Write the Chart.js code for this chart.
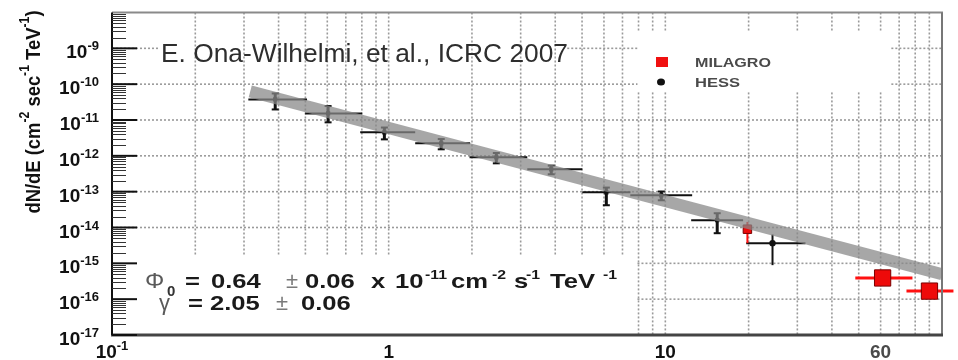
<!DOCTYPE html>
<html><head><meta charset="utf-8">
<script src="https://cdn.jsdelivr.net/npm/chart.js@4/dist/chart.umd.min.js"></script>
<style>html,body{margin:0;padding:0;background:#fff;overflow:hidden}#wrap{width:958px;height:360px;position:relative}</style>
</head><body><div id="wrap"><canvas id="c" width="958" height="360"></canvas></div>
<script>
// ---------------- data ----------------
const hessE   = [0.389, 0.604, 0.965, 1.549, 2.45, 3.87, 6.12, 9.67, 15.4, 24.4];
const hessElo = [0.311, 0.499, 0.789, 1.247, 1.96, 3.17, 5.01, 7.47, 12.4, 19.6];
const hessEhi = [0.507, 0.802, 1.247, 1.97, 3.17, 5.01, 7.48, 12.5, 19.1, 32.1];
const hessF   = [3.75e-11, 1.53e-11, 4.52e-12, 2.23e-12, 9.08e-13, 4.2e-13, 9.6e-14, 7.94e-14, 1.6e-14, 3.66e-15];
const hessFlo = [1.97e-11, 8.6e-12, 2.88e-12, 1.52e-12, 6.18e-13, 3.06e-13, 4.18e-14, 5.75e-14, 6.93e-15, 8.9e-16];
const hessFhi = [5.5e-11, 2.45e-11, 6.16e-12, 2.94e-12, 1.2e-12, 5.34e-13, 1.3e-13, 1.01e-13, 2.5e-14, 6.4e-15];

const milagroE   = [19.8, 61, 90.1];
const milagroElo = [19.8, 48.6, 74.4];
const milagroEhi = [19.8, 78.2, 110];
const milagroF   = [8.97e-15, 3.9e-16, 1.68e-16];
const milagroFlo = [3.66e-15, 3.9e-16, 1.68e-16];
const milagroFhi = [1.43e-14, 3.9e-16, 1.68e-16];

const fitE = [0.316, 100];
const fitF = [6.3e-11, 5.0e-16];

const xTickVals = [0.1, 1, 10, 60];
const xTickBase = ['10', '1', '10', '60'];
const xTickExp  = ['-1', '', '', ''];
const yTickExps = [-17, -16, -15, -14, -13, -12, -11, -10, -9];

// ---------------- drawing helpers ----------------
const FONT = '"Liberation Sans", Arial, Helvetica, sans-serif';
function txt(ctx, s, x, y, font, color, sx) {
  ctx.save(); ctx.font = font; ctx.fillStyle = color; ctx.textAlign = 'left'; ctx.textBaseline = 'alphabetic';
  const w = ctx.measureText(s).width; const k = sx || 1;
  ctx.translate(x, y); ctx.scale(k, 1); ctx.fillText(s, 0, 0); ctx.restore();
  return w * k;
}
function fitW(ctx, s, x, y, font, color, width) {
  ctx.save(); ctx.font = font; const w = ctx.measureText(s).width; ctx.restore();
  return txt(ctx, s, x, y, font, color, width / w);
}
function mw(ctx, s, font) { ctx.save(); ctx.font = font; const w = ctx.measureText(s).width; ctx.restore(); return w; }
function line(ctx, x1, y1, x2, y2) { ctx.beginPath(); ctx.moveTo(x1, y1); ctx.lineTo(x2, y2); ctx.stroke(); }

const decorations = {
  id: 'decorations',
  beforeDatasetsDraw(chart) {
    const ctx = chart.ctx, xs = chart.scales.x, ys = chart.scales.y, ca = chart.chartArea;
    // dotted grid
    ctx.save();
    ctx.beginPath(); ctx.rect(ca.left, ca.top, ca.right - ca.left, ca.bottom - ca.top); ctx.clip();
    ctx.strokeStyle = '#9a9a9a'; ctx.lineWidth = 1.6; ctx.setLineDash([2, 2]);
    for (let d = -1; d <= 1; d++) for (let k = 2; k <= 10; k++) {
      const v = k * Math.pow(10, d); if (v >= 100) continue;
      const px = xs.getPixelForValue(v);
      let segs;
      if (v < 7.9) segs = [[1e-8, Math.pow(10, -14.78)]];
      else if (v < 65) segs = [[1e-8, Math.pow(10, -8.56)], [Math.pow(10, -10.23), 1e-17]];
      else segs = [[1e-8, 1e-17]];
      segs.forEach(s => line(ctx, px, ys.getPixelForValue(s[0]), px, ys.getPixelForValue(s[1])));
    }
    const hSegs = {
      '-9': [[0.1, 0.149], [4.42, 7.93], [65.6, 100]],
      '-10': [[0.1, 7.93], [65.6, 100]],
      '-11': [[0.1, 100]], '-12': [[0.1, 100]], '-13': [[0.1, 100]], '-14': [[0.1, 100]],
      '-15': [[7.93, 100]], '-16': [[7.93, 100]]
    };
    Object.keys(hSegs).forEach(e => {
      const py = ys.getPixelForValue(Math.pow(10, +e));
      hSegs[e].forEach(s => line(ctx, xs.getPixelForValue(s[0]), py, xs.getPixelForValue(s[1]), py));
    });
    ctx.restore();

    // error bars
    ctx.save(); ctx.setLineDash([]);
    ctx.strokeStyle = '#111';
    hessE.forEach((e, i) => {
      const px = xs.getPixelForValue(e), py = ys.getPixelForValue(hessF[i]);
      ctx.lineWidth = 2;
      line(ctx, xs.getPixelForValue(hessElo[i]), py, xs.getPixelForValue(hessEhi[i]), py);
      const yt = ys.getPixelForValue(hessFhi[i]), yb = ys.getPixelForValue(hessFlo[i]);
      if (i < hessE.length - 1) {
        ctx.lineWidth = 3; line(ctx, px, yt, px, yb);
        ctx.lineWidth = 2; line(ctx, px - 3.5, yt, px + 3.5, yt); line(ctx, px - 3.5, yb, px + 3.5, yb);
      } else {
        ctx.lineWidth = 2; line(ctx, px, yt, px, yb);
      }
    });
    ctx.strokeStyle = '#ff1010';
    milagroE.forEach((e, i) => {
      const px = xs.getPixelForValue(e), py = ys.getPixelForValue(milagroF[i]);
      ctx.lineWidth = 3;
      if (milagroEhi[i] > milagroElo[i]) line(ctx, xs.getPixelForValue(milagroElo[i]), py, xs.getPixelForValue(milagroEhi[i]), py);
      ctx.lineWidth = 2;
      if (milagroFhi[i] > milagroFlo[i]) line(ctx, px, ys.getPixelForValue(milagroFhi[i]), px, ys.getPixelForValue(milagroFlo[i]));
    });
    ctx.restore();
  },
  afterDatasetsDraw(chart) {
    const ctx = chart.ctx, ys = chart.scales.y, ca = chart.chartArea;
    ctx.save(); ctx.setLineDash([]);
    ctx.strokeStyle = '#8a8a8a'; ctx.lineWidth = 2; line(ctx, ca.left, ca.top, ca.right + 1, ca.top);
    ctx.strokeStyle = '#777'; ctx.lineWidth = 2; line(ctx, ca.right, ca.top, ca.right, ca.bottom);
    ctx.strokeStyle = '#444'; ctx.lineWidth = 3; line(ctx, ca.left - 1, ca.bottom, ca.right + 1, ca.bottom);
    ctx.strokeStyle = '#111'; ctx.lineWidth = 2; line(ctx, ca.left, ca.top, ca.left, ca.bottom);
    yTickExps.forEach(e => {
      const py = ys.getPixelForValue(Math.pow(10, e));
      ctx.strokeStyle = '#111'; ctx.lineWidth = 2; line(ctx, ca.left, py, ca.left + 25, py);
      ctx.strokeStyle = '#333'; ctx.lineWidth = 1;
      for (let k = 2; k <= 9; k++) {
        const pm = Math.round(ys.getPixelForValue(k * Math.pow(10, e))) + 0.5;
        line(ctx, ca.left, pm, ca.left + 14, pm);
      }
    });
    ctx.restore();
  },
  afterDraw(chart) {
    const ctx = chart.ctx, xs = chart.scales.x, ys = chart.scales.y;
    const fb = 'bold 19px ' + FONT, fs = 'bold 13px ' + FONT;
    yTickExps.forEach(e => {
      const py = ys.getPixelForValue(Math.pow(10, e));
      const sup = String(e);
      const wb = mw(ctx, '10', fb), ws = mw(ctx, sup, fs);
      const x0 = 99 - wb - ws;
      txt(ctx, '10', x0, py + 10, fb, '#111');
      txt(ctx, sup, x0 + wb, py + 2, fs, '#111');
    });
    xTickVals.forEach((v, i) => {
      const px = xs.getPixelForValue(v);
      const col = xTickBase[i] === '60' ? '#4a4a4a' : '#111';
      const wb = mw(ctx, xTickBase[i], fb), ws = xTickExp[i] ? mw(ctx, xTickExp[i], fs) : 0;
      const x0 = px - (wb + ws) / 2;
      txt(ctx, xTickBase[i], x0, 358, fb, col);
      if (xTickExp[i]) txt(ctx, xTickExp[i], x0 + wb, 350, fs, col);
    });
    ctx.save();
    ctx.translate(40, 112); ctx.rotate(-Math.PI / 2);
    const tf = 'bold 21px ' + FONT, tsf = 'bold 14px ' + FONT;
    const parts = [['dN/dE (cm', 0], ['-2', 1], [' sec', 0], ['-1', 1], [' TeV', 0], ['-1', 1], [')', 0]];
    let tot = 0; parts.forEach(p => tot += mw(ctx, p[0], p[1] ? tsf : tf));
    const k = 203 / tot; let cx = -tot * k / 2;
    parts.forEach(p => { cx += txt(ctx, p[0], cx, p[1] ? -11 : 0, p[1] ? tsf : tf, '#111', k); });
    ctx.restore();
    fitW(ctx, 'E. Ona-Wilhelmi, et al., ICRC 2007', 161, 62, '25px ' + FONT, '#2e2e2e', 407);
    ctx.save();
    ctx.fillStyle = '#f01010'; ctx.fillRect(656, 57, 12, 10);
    ctx.fillStyle = '#111'; ctx.beginPath(); ctx.ellipse(661, 82, 4, 3.5, 0, 0, Math.PI * 2); ctx.fill();
    ctx.restore();
    fitW(ctx, 'MILAGRO', 695, 67, 'bold 13px ' + FONT, '#4a4a4a', 76);
    fitW(ctx, 'HESS', 695, 87, 'bold 13px ' + FONT, '#4a4a4a', 45);
    const F = 'bold 21px ' + FONT, G = '22px ' + FONT, S = 'bold 13px ' + FONT, SX = 1.22;
    const dk = '#1a1a1a', gr = '#5a5a5a', lg = '#7a7a7a';
    txt(ctx, '\u03A6', 145, 288, G, gr, 1.1);
    txt(ctx, '0', 167, 296, 'bold 15px ' + FONT, '#333');
    txt(ctx, '=', 185, 288, F, dk, SX);
    txt(ctx, '0.64', 211, 288, F, dk, SX);
    txt(ctx, '\u00B1', 286, 288, G, lg);
    txt(ctx, '0.06', 305, 288, F, dk, SX);
    txt(ctx, 'x', 371, 288, F, dk, SX);
    txt(ctx, '10', 395, 288, F, dk, SX);
    txt(ctx, '-11', 425, 279, S, dk, SX);
    txt(ctx, 'cm', 451, 288, F, dk, SX);
    txt(ctx, '-2', 492, 279, S, dk, SX);
    txt(ctx, 's', 514, 288, F, dk, SX);
    txt(ctx, '-1', 526, 279, S, dk, SX);
    txt(ctx, 'TeV', 550, 288, F, dk, SX);
    txt(ctx, '-1', 603, 279, S, dk, SX);
    txt(ctx, '\u03B3', 159, 310, G, gr);
    txt(ctx, '=', 188, 310, F, dk, SX);
    txt(ctx, '2.05', 210, 310, F, dk, SX);
    txt(ctx, '\u00B1', 276, 310, G, lg);
    txt(ctx, '0.06', 301, 310, F, dk, SX);
  }
};

const hessPts = hessE.map((e, i) => ({ x: e, y: hessF[i] }));
const milPts = milagroE.map((e, i) => ({ x: e, y: milagroF[i] }));
const fitPts = fitE.map((e, i) => ({ x: e, y: fitF[i] }));

new Chart(document.getElementById('c'), {
  type: 'scatter',
  data: {
    datasets: [
      { label: 'fit', data: fitPts, showLine: true, borderColor: 'rgba(136,136,136,0.74)', borderWidth: 12,
        borderCapStyle: 'butt', pointRadius: 0, order: 0 },
      { label: 'MILAGRO', data: milPts, pointStyle: 'rect', backgroundColor: '#ee0a0a', borderColor: '#7a0000',
        borderWidth: 1, pointRadius: ctx => ctx.dataIndex === 0 ? 6 : 11.5, order: 1 },
      { label: 'HESS', data: hessPts, backgroundColor: '#111', borderColor: '#111', borderWidth: 0,
        pointStyle: ctx => ctx.dataIndex === hessE.length - 1 ? 'circle' : 'rect',
        pointRadius: ctx => ctx.dataIndex === hessE.length - 1 ? 3.2 : 3, order: 2 }
    ]
  },
  options: {
    responsive: false, animation: false, events: [],
    layout: { padding: { left: 112, top: 11, right: 16, bottom: 25 } },
    plugins: { legend: { display: false }, tooltip: { enabled: false } },
    scales: {
      x: { type: 'logarithmic', min: 0.1, max: 100, display: false },
      y: { type: 'logarithmic', min: 1e-17, max: 1e-8, display: false }
    }
  },
  plugins: [decorations]
});
</script>
</body></html>
